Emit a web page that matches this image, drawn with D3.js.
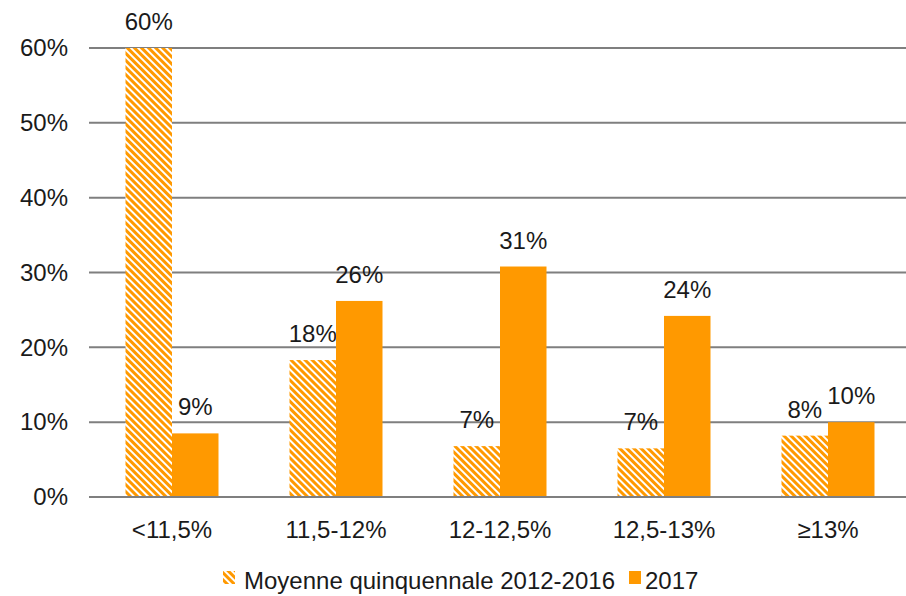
<!DOCTYPE html>
<html>
<head>
<meta charset="utf-8">
<script src="https://cdn.jsdelivr.net/npm/d3@7"></script>
<style>
  body { margin: 0; background: #fff; }
  text { font-family: "Liberation Sans", Arial, sans-serif; fill: #1a1a1a; }
</style>
</head>
<body>
<div id="wrapper"></div>
<script>
// categories and values (percent)
const categories = ["<11,5%", "11,5-12%", "12-12,5%", "12,5-13%", "\u226513%"];
const moyenne = [60.0, 18.3, 6.8, 6.5, 8.2];
const annee2017 = [8.5, 26.2, 30.8, 24.2, 10.0];
const yTicks = [0, 10, 20, 30, 40, 50, 60];
const seriesNames = ["Moyenne quinquennale 2012-2016", "2017"];

const orange = "#ff9900";

var dimension = {
    width: 906,
    height: 596,
    margin: { top: 48, left: 90, bottom: 99, right: 0 }
};
dimension.boundedWidth = 820; // plot area runs slightly past the right edge
dimension.boundedHeight = dimension.height - dimension.margin.top - dimension.margin.bottom;
const gridRight = dimension.width - dimension.margin.left;

const svg = d3.select("#wrapper").append("svg")
    .attr("width", dimension.width)
    .attr("height", dimension.height);

// hatch pattern
const defs = svg.append("defs");
defs.append("pattern")
    .attr("id", "hatch")
    .attr("patternUnits", "userSpaceOnUse")
    .attr("width", 5)
    .attr("height", 5)
    .attr("patternTransform", "rotate(-45)")
    .call(p => {
        p.append("rect").attr("width", 5).attr("height", 5).attr("fill", "#fff");
        p.append("rect").attr("width", 3).attr("height", 5).attr("fill", orange);
    });

const bounded = svg.append("g")
    .attr("transform", `translate(${dimension.margin.left},${dimension.margin.top})`);

const xScaler = d3.scaleBand()
    .domain(categories)
    .range([0, dimension.boundedWidth]);

const yScaler = d3.scaleLinear()
    .domain([0, 60])
    .range([dimension.boundedHeight, 0]);

const barW = 46.5;

// gridlines
bounded.append("g")
    .selectAll("line")
    .data(yTicks)
    .join("line")
    .attr("x1", -1)
    .attr("x2", gridRight)
    .attr("y1", d => yScaler(d))
    .attr("y2", d => yScaler(d))
    .attr("stroke", "#7f7f7f")
    .attr("stroke-width", 2);

// y labels
const yAxis = d3.axisLeft(yScaler)
    .tickValues(yTicks)
    .tickFormat(d => d + "%")
    .tickSize(0)
    .tickPadding(22);
bounded.append("g")
    .call(yAxis)
    .call(g => g.select(".domain").remove())
    .selectAll("text")
    .attr("font-size", 24)
    .attr("font-family", "Liberation Sans, Arial, sans-serif")
    .attr("fill", "#1a1a1a");

// x labels
const xAxis = d3.axisBottom(xScaler).tickSize(0).tickPadding(24);
bounded.append("g")
    .attr("transform", `translate(0,${dimension.boundedHeight})`)
    .call(xAxis)
    .call(g => g.select(".domain").remove())
    .selectAll("text")
    .attr("font-size", 24)
    .attr("font-family", "Liberation Sans, Arial, sans-serif")
    .attr("fill", "#1a1a1a");

const groups = [
    { values: moyenne, fill: "url(#hatch)", offset: -barW },
    { values: annee2017, fill: orange, offset: 0 }
];

groups.forEach(s => {
    const cx = (d, i) => xScaler(categories[i]) + xScaler.bandwidth() / 2 + s.offset;
    bounded.append("g")
        .selectAll("rect")
        .data(s.values)
        .join("rect")
        .attr("x", cx)
        .attr("width", barW)
        .attr("y", d => yScaler(d))
        .attr("height", d => dimension.boundedHeight - yScaler(d))
        .attr("fill", s.fill);

    bounded.append("g")
        .selectAll("text")
        .data(s.values)
        .join("text")
        .attr("x", (d, i) => cx(d, i) + barW / 2)
        .attr("y", d => yScaler(d) - 18)
        .attr("text-anchor", "middle")
        .attr("font-size", 24)
        .text(d => Math.round(d) + "%");
});

// redraw baseline on top of bars
bounded.append("line")
    .attr("x1", -1)
    .attr("x2", gridRight)
    .attr("y1", yScaler(0))
    .attr("y2", yScaler(0))
    .attr("stroke", "#7f7f7f")
    .attr("stroke-width", 2);

// legend
const legend = svg.append("g").attr("transform", "translate(223,589)");
legend.append("rect")
    .attr("x", 0).attr("y", -18).attr("width", 12).attr("height", 13)
    .attr("fill", "url(#hatch)");
legend.append("text")
    .attr("x", 21).attr("y", 0)
    .attr("font-size", 24)
    .text(seriesNames[0]);
legend.append("rect")
    .attr("x", 406).attr("y", -18).attr("width", 12).attr("height", 13)
    .attr("fill", orange);
legend.append("text")
    .attr("x", 422).attr("y", 0)
    .attr("font-size", 24)
    .text(seriesNames[1]);
</script>
</body>
</html>
